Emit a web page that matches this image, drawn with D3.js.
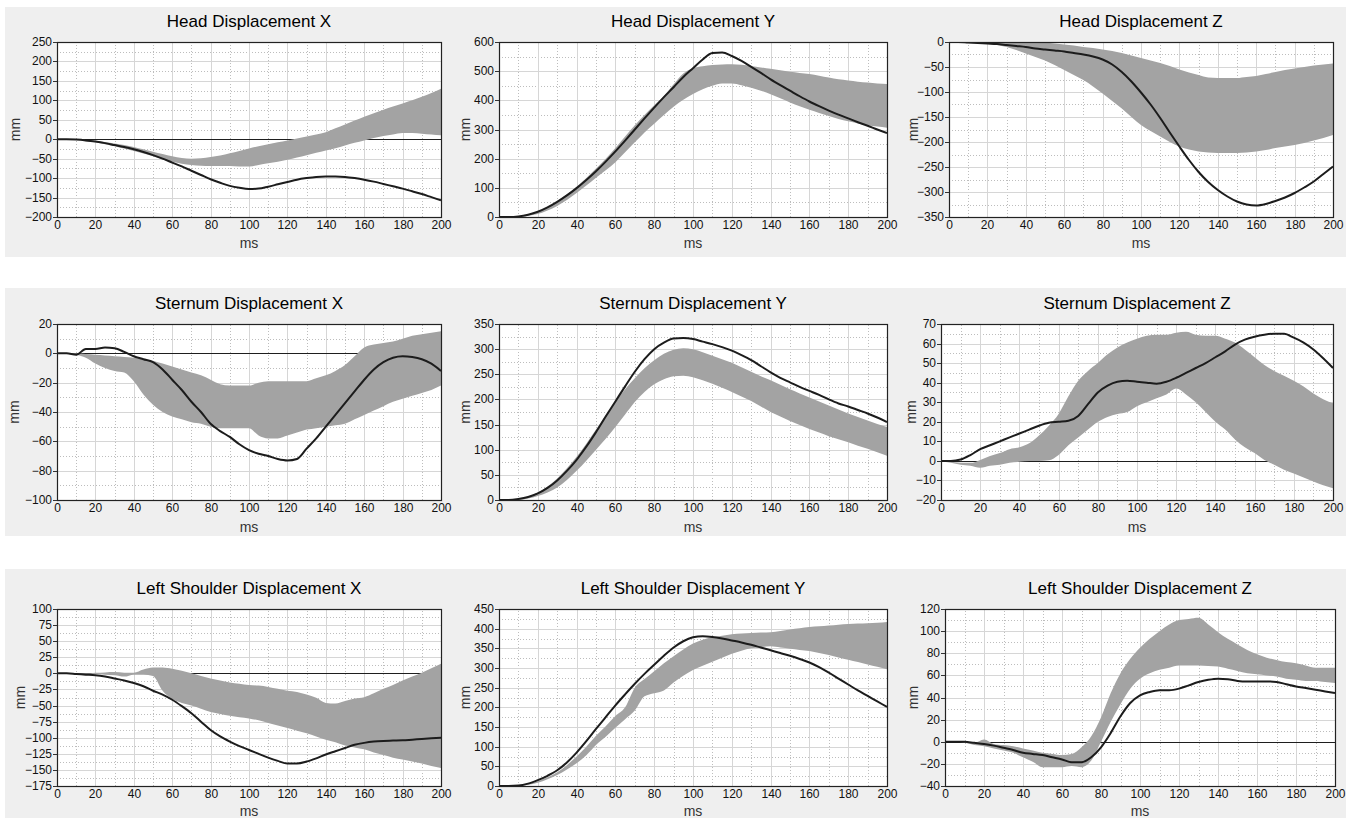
<!DOCTYPE html>
<html><head><meta charset="utf-8">
<script src="https://cdn.jsdelivr.net/npm/d3@7"></script>
<style>
body{margin:0;background:#fff;}
svg{display:block;}
</style></head><body>
<svg id="chart" width="1354" height="821"></svg>
<script>
// ---------- DATA ----------
const time = [0,5,10,15,20,25,30,35,40,45,50,55,60,65,70,75,80,85,90,95,100,105,110,115,120,125,130,135,140,145,150,155,160,165,170,175,180,185,190,195,200];
const xTicks = [0,20,40,60,80,100,120,140,160,180,200];

const titles = ["Head Displacement X","Head Displacement Y","Head Displacement Z",
  "Sternum Displacement X","Sternum Displacement Y","Sternum Displacement Z",
  "Left Shoulder Displacement X","Left Shoulder Displacement Y","Left Shoulder Displacement Z"];

const headX_yTicks = [-200,-150,-100,-50,0,50,100,150,200,250];
const headX_line  = [0,0,-1,-3,-6,-10,-15,-20,-26,-33,-41,-50,-60,-70,-81,-92,-103,-112,-120,-125,-128,-127,-122,-116,-110,-104,-100,-97,-96,-96,-97,-100,-104,-109,-115,-121,-127,-134,-141,-149,-157];
const headX_upper = [0,0,0,-2,-4,-7,-11,-15,-20,-26,-32,-38,-44,-48,-50,-49,-46,-42,-36,-30,-24,-18,-13,-8,-3,2,7,12,18,28,38,48,58,67,76,84,92,100,109,119,130];
const headX_lower = [0,-1,-2,-5,-8,-13,-18,-24,-30,-37,-44,-52,-58,-63,-66,-68,-69,-69,-69,-70,-70,-66,-62,-58,-53,-47,-41,-35,-29,-23,-16,-9,-3,3,8,12,16,16,14,12,10];

const headY_yTicks = [0,100,200,300,400,500,600];
const headY_line  = [0,0,2,8,18,33,52,74,99,127,157,190,225,262,300,338,375,411,445,480,510,540,562,564,552,535,515,494,472,452,433,414,396,380,365,351,338,325,313,300,288];
const headY_upper = [0,0,2,8,18,34,54,78,104,134,166,200,237,276,315,350,383,415,455,492,510,517,521,523,524,522,518,513,508,503,498,494,490,484,478,472,468,464,461,458,456];
const headY_lower = [0,0,0,4,10,22,38,58,82,108,135,160,188,222,256,290,320,350,378,402,422,438,450,458,458,452,443,433,421,407,393,380,368,357,346,336,328,321,315,310,306];

const headZ_yTicks = [-350,-300,-250,-200,-150,-100,-50,0];
const headZ_line  = [0,0,-1,-2,-3,-4,-6,-8,-10,-13,-15,-17,-19,-22,-25,-29,-35,-45,-60,-79,-101,-125,-152,-181,-209,-236,-260,-280,-296,-309,-319,-325,-327,-324,-318,-311,-302,-291,-279,-264,-249];
const headZ_upper = [0,0,0,0,0,0,0,0,0,0,-1,-3,-5,-7,-10,-12,-15,-18,-22,-27,-32,-37,-42,-48,-55,-61,-66,-71,-72,-72,-72,-70,-68,-64,-60,-56,-53,-50,-47,-45,-43];
const headZ_lower = [0,0,-1,-2,-3,-6,-10,-16,-23,-30,-37,-46,-56,-66,-76,-89,-103,-118,-133,-150,-166,-178,-189,-200,-209,-215,-219,-221,-222,-222,-222,-221,-219,-216,-212,-209,-206,-202,-197,-192,-186];

const sternumX_yTicks = [-100,-80,-60,-40,-20,0,20];
const sternumX_line  = [0,0,-1,3,3,4,3.5,1,-2,-4,-6,-11,-18,-25,-33,-40,-48,-53,-57,-62,-66,-68.5,-70,-72,-73,-72,-65,-58,-50,-42,-34,-26,-18,-11,-6,-3,-2,-2.5,-4,-7,-12];
const sternumX_upper = [0,0,0,-0.5,-1,-1.5,-2,-2.5,-3,-4,-5,-7,-9,-11,-13,-15,-18,-21,-22,-22,-22,-20,-19,-19,-19,-19,-19,-17,-15,-12,-8,-2,4,6,7,8,10,12,13,14,15];
const sternumX_lower = [0,0,-1,-3,-7,-10,-12,-13,-19,-28,-35,-40,-43,-45,-47,-48,-50,-51,-51,-51,-51,-56,-58,-58,-56,-54,-52,-51,-50,-49,-48,-45,-42,-39,-36,-33,-31,-29,-27,-25,-22];

const sternumY_yTicks = [0,50,100,150,200,250,300,350];
const sternumY_line  = [0,0,2,6,13,24,39,58,80,106,135,166,196,226,255,280,300,313,321,322,320,315,310,304,297,288,278,266,254,243,234,225,217,209,200,192,186,179,172,164,155];
const sternumY_upper = [0,0,2,7,15,27,43,63,86,112,140,168,195,220,242,262,278,291,299,302,300,294,287,280,273,264,255,246,238,229,220,212,204,196,188,180,172,165,158,151,145];
const sternumY_lower = [0,0,0,3,8,15,25,40,58,78,100,122,145,170,195,215,230,240,246,247,244,238,231,223,215,206,197,186,175,166,157,149,141,134,127,121,115,108,102,95,88];

const sternumZ_yTicks = [-20,-10,0,10,20,30,40,50,60,70];
const sternumZ_line  = [0,0,0.7,3,6,8,10,12,14,16,18,19.5,20,20.5,23,29,35,38.5,40.5,41,40.5,40,39.5,40.5,42.5,45,47.5,50,53,56,59.5,62,63.5,64.5,65,65,63,60.5,57,52.5,47.5];
const sternumZ_upper = [0,-0.5,-1,-1,0.5,2.5,4,6,7,9,13,18,24,33,41,46,50,54.5,58,60.5,62.5,64,64.5,64.5,65.5,66,64.5,64,64,62.5,60.5,57,53,49,46,43.5,41,38,34.5,31.5,29.5];
const sternumZ_lower = [0,-1,-2,-2.5,-3.5,-2.5,-2,-1,-0.5,0,0,0.3,3,8,12,16,20,22.5,24,25,28,30,32,34,37,34,30,25,20,16,11,7,4,0.5,-2,-4.5,-6.5,-8.5,-10.5,-12.5,-14];

const lsX_yTicks = [-175,-150,-125,-100,-75,-50,-25,0,25,50,75,100];
const lsX_line  = [0,0,-1,-2,-3,-5,-8,-11,-15,-20,-27,-33,-41,-51,-62,-75,-88,-98,-106,-113,-119,-125,-131,-136,-140,-140,-137,-132,-126,-121,-116,-111,-108,-106,-105,-104.5,-104,-103,-102,-101,-100];
const lsX_upper = [0,0,0,0,1,1.5,2,1,1,6,9,9,7,4,0,-4,-8,-11,-14,-16,-18,-19,-21,-24,-27,-29,-33,-38,-46,-47,-43,-39,-37,-31,-24,-18,-11,-5,1,8,15];
const lsX_lower = [0,0,-1,-1,-1,-2,-3,-5,-2,-2,-4,-27,-40,-46,-50,-55,-60,-63,-66,-68,-70,-73,-77,-81,-85,-89,-93,-98,-103,-107,-112,-115,-118,-123,-127,-131,-134,-137,-140,-144,-147];

const lsY_yTicks = [0,50,100,150,200,250,300,350,400,450];
const lsY_line  = [0,0,1,6,15,26,40,60,85,114,145,175,205,233,260,285,308,331,352,368,378,381,379,375,370,365,359,352,345,338,331,323,314,302,288,273,258,243,229,215,201];
const lsY_upper = [0,0,1,5,12,22,35,53,75,100,128,152,178,200,250,272,292,312,330,347,362,372,378,382,386,388,389,390,391,394,398,401,404,406,408,410,412,413,414,415,417];
const lsY_lower = [0,0,0,3,8,17,28,42,58,78,104,125,148,170,192,228,236,243,263,280,295,306,316,326,336,344,350,353,355,352,349,346,343,338,333,327,321,315,309,303,297];

const lsZ_yTicks = [-40,-20,0,20,40,60,80,100,120];
const lsZ_line  = [0,0,0,-1,-2,-3.5,-5.5,-7.5,-10,-11,-12,-14,-16,-18.5,-18.5,-14,-5,8,23,35,42,45,46.5,46.5,48,51,54,56,57,56.5,55,54.5,54.5,54.5,54,52,50,48.5,47,45.5,44];
const lsZ_upper = [0,0,0,-1,2,-2,-3,-4,-6,-8,-10,-11,-12,-11,-5,5,22,44,62,75,85,93,100,106,110,111,112,106,99,93,88,83,79,76,74,72,71,69,67,67,67];
const lsZ_lower = [0,0,-1,-3,-4,-6,-8,-10,-14,-18,-23,-23,-23,-22,-23,-17,0,18,34,48,57,62,65,67,69,69,69,68.5,68,66,64,62,61,60,59,57,56,55,55,54,53];

const panels = [
  {yTicks: headX_yTicks, line: headX_line, upper: headX_upper, lower: headX_lower},
  {yTicks: headY_yTicks, line: headY_line, upper: headY_upper, lower: headY_lower},
  {yTicks: headZ_yTicks, line: headZ_line, upper: headZ_upper, lower: headZ_lower},
  {yTicks: sternumX_yTicks, line: sternumX_line, upper: sternumX_upper, lower: sternumX_lower},
  {yTicks: sternumY_yTicks, line: sternumY_line, upper: sternumY_upper, lower: sternumY_lower},
  {yTicks: sternumZ_yTicks, line: sternumZ_line, upper: sternumZ_upper, lower: sternumZ_lower},
  {yTicks: lsX_yTicks, line: lsX_line, upper: lsX_upper, lower: lsX_lower},
  {yTicks: lsY_yTicks, line: lsY_line, upper: lsY_upper, lower: lsY_lower},
  {yTicks: lsZ_yTicks, line: lsZ_line, upper: lsZ_upper, lower: lsZ_lower}
];

// ---------- LAYOUT ----------
const plotLeft  = [57,499,949, 57,499,941, 57,499,945];
const plotRight = [441,887,1333, 441,887,1333, 441,887,1335];
const rowTop    = [42,324,609];
const rowBottom = [217,500,786];
const rowBgTop  = [7,288,569];
const rowBgBot  = [257,536,818];
const titleY    = [21,303,588];
const msY       = [243,527,811];
const mmX       = [15,465,913, 14,465,911, 20,465,913];

const svg = d3.select("#chart");
const tickFont = "'Liberation Sans Narrow','Arial Narrow','Liberation Sans',Arial,sans-serif";
const labelFont = "'Liberation Sans',Arial,sans-serif";

for (let r = 0; r < 3; r++) {
  svg.append("rect").attr("x",5).attr("y",rowBgTop[r]).attr("width",1341)
    .attr("height",rowBgBot[r]-rowBgTop[r]).attr("fill","#efefef");
}

const mids = arr => arr.slice(0,-1).map((v,k)=>(v+arr[k+1])/2);

panels.forEach((p,i) => {
  const r = Math.floor(i/3);
  const L = plotLeft[i], R = plotRight[i], T = rowTop[r], B = rowBottom[r];
  const yDom = [p.yTicks[0], p.yTicks[p.yTicks.length-1]];
  const x = d3.scaleLinear().domain([0,200]).range([L,R]);
  const y = d3.scaleLinear().domain(yDom).range([B,T]);
  const xg = x.copy().interpolate(d3.interpolateRound);
  const yg = y.copy().interpolate(d3.interpolateRound);
  const g = svg.append("g");

  g.append("rect").attr("x",L).attr("y",T).attr("width",R-L).attr("height",B-T).attr("fill","#fff");

  // minor dotted grid
  const gm = g.append("g");
  gm.append("g").attr("transform",`translate(0,${B})`)
    .call(d3.axisBottom(xg).tickValues(mids(xTicks)).tickSize(-(B-T)).tickFormat(""));
  gm.append("g").attr("transform",`translate(${L},0)`)
    .call(d3.axisLeft(yg).tickValues(mids(p.yTicks)).tickSize(-(R-L)).tickFormat(""));
  gm.selectAll(".domain").remove();
  gm.selectAll("line").attr("stroke","#bdbdbd").attr("stroke-dasharray","1,2");

  // major solid grid
  const gM = g.append("g");
  gM.append("g").attr("transform",`translate(0,${B})`)
    .call(d3.axisBottom(xg).tickValues(xTicks.slice(1,-1)).tickSize(-(B-T)).tickFormat(""));
  gM.append("g").attr("transform",`translate(${L},0)`)
    .call(d3.axisLeft(yg).tickValues(p.yTicks.slice(1,-1)).tickSize(-(R-L)).tickFormat(""));
  gM.selectAll(".domain").remove();
  gM.selectAll("line").attr("stroke","#d6d6d6");

  // zero line
  if (yDom[0] < 0 && yDom[1] > 0) {
    g.append("line").attr("x1",L).attr("x2",R)
      .attr("y1",yg(0)+0.5).attr("y2",yg(0)+0.5)
      .attr("stroke","#1e1e1e").attr("stroke-width",1.2);
  }

  const clipId = "clip"+i;
  svg.append("clipPath").attr("id",clipId).append("rect")
    .attr("x",L).attr("y",T).attr("width",R-L).attr("height",B-T);
  const gd = g.append("g").attr("clip-path",`url(#${clipId})`);

  const area = d3.area()
    .x((d,k)=>x(time[k]))
    .y0((d,k)=>y(p.lower[k]))
    .y1((d,k)=>y(p.upper[k]))
    .curve(d3.curveMonotoneX);
  gd.append("path").datum(time).attr("d",area).attr("fill","#a3a3a3");

  const line = d3.line()
    .x((d,k)=>x(time[k]))
    .y((d,k)=>y(p.line[k]))
    .curve(d3.curveMonotoneX);
  gd.append("path").datum(time).attr("d",line).attr("fill","none")
    .attr("stroke","#1c1c1c").attr("stroke-width",2);

  // frame
  g.append("rect").attr("x",L+0.5).attr("y",T+0.5).attr("width",R-L).attr("height",B-T)
    .attr("fill","none").attr("stroke","#222").attr("stroke-width",1.2);

  // y axis labels
  const ya = g.append("g").attr("transform",`translate(${L},0)`)
    .call(d3.axisLeft(yg).tickValues(p.yTicks).tickSize(4).tickPadding(1));
  ya.select(".domain").remove();
  ya.selectAll("line").attr("stroke","#333");
  ya.selectAll("text").attr("font-family",tickFont).attr("font-size",12).attr("fill","#111");

  // x axis labels
  const xa = g.append("g").attr("transform",`translate(0,${B})`)
    .call(d3.axisBottom(xg).tickValues(xTicks).tickSize(0).tickPadding(3));
  xa.select(".domain").remove();
  xa.selectAll("text").attr("font-family",tickFont).attr("font-size",12).attr("fill","#111");

  // title
  g.append("text").attr("x",(L+R)/2).attr("y",titleY[r]).attr("text-anchor","middle")
    .attr("dominant-baseline","central").attr("font-family",labelFont).attr("font-size",17)
    .attr("fill","#000").text(titles[i]);
  // axis titles
  g.append("text").attr("x",(L+R)/2).attr("y",msY[r]).attr("text-anchor","middle")
    .attr("dominant-baseline","central").attr("font-family",labelFont).attr("font-size",14)
    .attr("fill","#333").text("ms");
  g.append("text").attr("transform",`translate(${mmX[i]},${(T+B)/2}) rotate(-90)`)
    .attr("text-anchor","middle").attr("dominant-baseline","central")
    .attr("font-family",labelFont).attr("font-size",14).attr("fill","#333").text("mm");
});
</script>
</body></html>
